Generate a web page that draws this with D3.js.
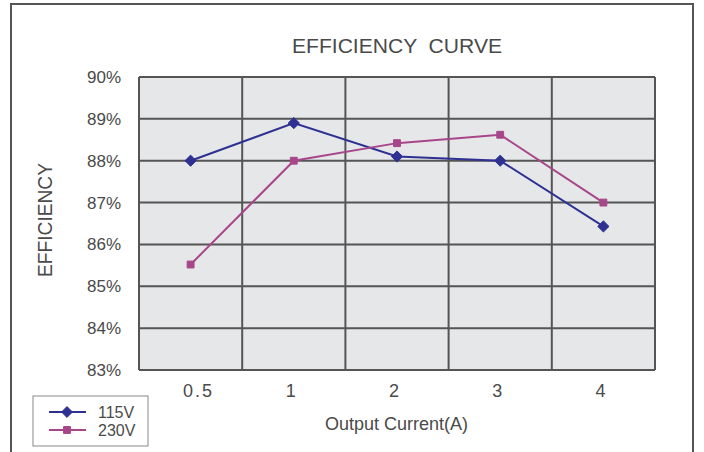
<!DOCTYPE html>
<html>
<head>
<meta charset="utf-8">
<script src="https://cdn.jsdelivr.net/npm/d3@7.9.0/dist/d3.min.js"></script>
<style>
  body { margin: 0; background: #fff; }
  svg text { font-family: "Liberation Sans", Arial, sans-serif; fill: #4a4a4a; }
</style>
</head>
<body>
<svg id="chart" width="704" height="452"></svg>
<script>
const categories = ['0.5', '1', '2', '3', '4'];
const eff115 = [88.0, 88.9, 88.1, 88.0, 86.43];
const eff230 = [85.52, 88.0, 88.42, 88.62, 87.0];
const yTicks = [83, 84, 85, 86, 87, 88, 89, 90];
const seriesNames = ['115V', '230V'];

const svg = d3.select('#chart');
const plotL = 139, plotR = 655, plotT = 77, plotB = 370;

// outer frame
svg.append('path')
  .attr('d', 'M11,460 L11,4 L693,4 L693,460')
  .attr('fill', 'none')
  .attr('stroke', '#555')
  .attr('stroke-width', 2);

const x = d3.scaleBand().domain(categories).range([plotL, plotR]);
const y = d3.scaleLinear().domain([83, 90]).range([plotB, plotT]);

svg.append('rect')
  .attr('x', plotL).attr('y', plotT)
  .attr('width', plotR - plotL).attr('height', plotB - plotT)
  .attr('fill', '#e6e7e8');

// gridlines
svg.append('g').selectAll('line').data(yTicks).join('line')
  .attr('x1', plotL).attr('x2', plotR)
  .attr('y1', d => y(d)).attr('y2', d => y(d))
  .attr('stroke', '#555').attr('stroke-width', 2);

const vx = categories.map(c => x(c)).concat([plotR]);
svg.append('g').selectAll('line').data(vx).join('line')
  .attr('x1', d => d).attr('x2', d => d)
  .attr('y1', plotT).attr('y2', plotB)
  .attr('stroke', '#555').attr('stroke-width', 2);

// tick labels
svg.append('g').selectAll('text').data(yTicks).join('text')
  .attr('x', 121).attr('y', d => y(d) + 6)
  .attr('text-anchor', 'end')
  .attr('font-size', 17)
  .text(d => d + '%');

svg.append('g').selectAll('text').data(categories).join('text')
  .attr('x', (d, i) => x(d) + x.bandwidth() / 2 + (i === 0 ? 8 : -3))
  .attr('y', 397)
  .attr('text-anchor', 'middle')
  .attr('font-size', 18)
  .style('letter-spacing', d => d.length > 1 ? '2px' : '0px')
  .text(d => d);

svg.append('text')
  .attr('x', 292).attr('y', 53)
  .attr('font-size', 21)
  .attr('textLength', 210)
  .attr('lengthAdjust', 'spacingAndGlyphs')
  .style('white-space', 'pre')
  .text('EFFICIENCY  CURVE');

svg.append('text')
  .attr('transform', 'translate(52,277) rotate(-90)')
  .attr('font-size', 21)
  .attr('textLength', 114)
  .attr('lengthAdjust', 'spacingAndGlyphs')
  .text('EFFICIENCY');

svg.append('text')
  .attr('x', 325).attr('y', 430)
  .attr('font-size', 19)
  .attr('textLength', 143)
  .attr('lengthAdjust', 'spacingAndGlyphs')
  .text('Output Current(A)');

// series
const colors = ['#2e3192', '#a8468a'];
const series = [eff115, eff230];
const line = d3.line()
  .x((d, i) => x(categories[i]) + x.bandwidth() / 2)
  .y(d => y(d));

series.forEach((vals, si) => {
  svg.append('path')
    .datum(vals)
    .attr('d', line)
    .attr('fill', 'none')
    .attr('stroke', colors[si])
    .attr('stroke-width', 2);
  const sym = d3.symbol().type(si === 0 ? d3.symbolDiamond2 : d3.symbolSquare2).size(si === 0 ? 80 : 60);
  svg.append('g').selectAll('path').data(vals).join('path')
    .attr('transform', (d, i) => `translate(${x(categories[i]) + x.bandwidth() / 2},${y(d)})`)
    .attr('d', sym)
    .attr('fill', colors[si])
    .attr('stroke', colors[si])
    .attr('stroke-width', 1);
});

// legend
const lg = svg.append('g');
lg.append('rect')
  .attr('x', 33).attr('y', 396).attr('width', 115).attr('height', 50)
  .attr('fill', '#fff').attr('stroke', '#888').attr('stroke-width', 1);
seriesNames.forEach((name, i) => {
  const ly = 412 + i * 18;
  lg.append('line')
    .attr('x1', 49).attr('x2', 86).attr('y1', ly).attr('y2', ly)
    .attr('stroke', colors[i]).attr('stroke-width', 2);
  const sym = d3.symbol().type(i === 0 ? d3.symbolDiamond2 : d3.symbolSquare2).size(i === 0 ? 75 : 60);
  lg.append('path')
    .attr('transform', `translate(67,${ly})`)
    .attr('d', sym)
    .attr('fill', colors[i]).attr('stroke', colors[i]);
  lg.append('text')
    .attr('x', 98).attr('y', ly + 6)
    .attr('font-size', 16)
    .text(name);
});
</script>
</body>
</html>
